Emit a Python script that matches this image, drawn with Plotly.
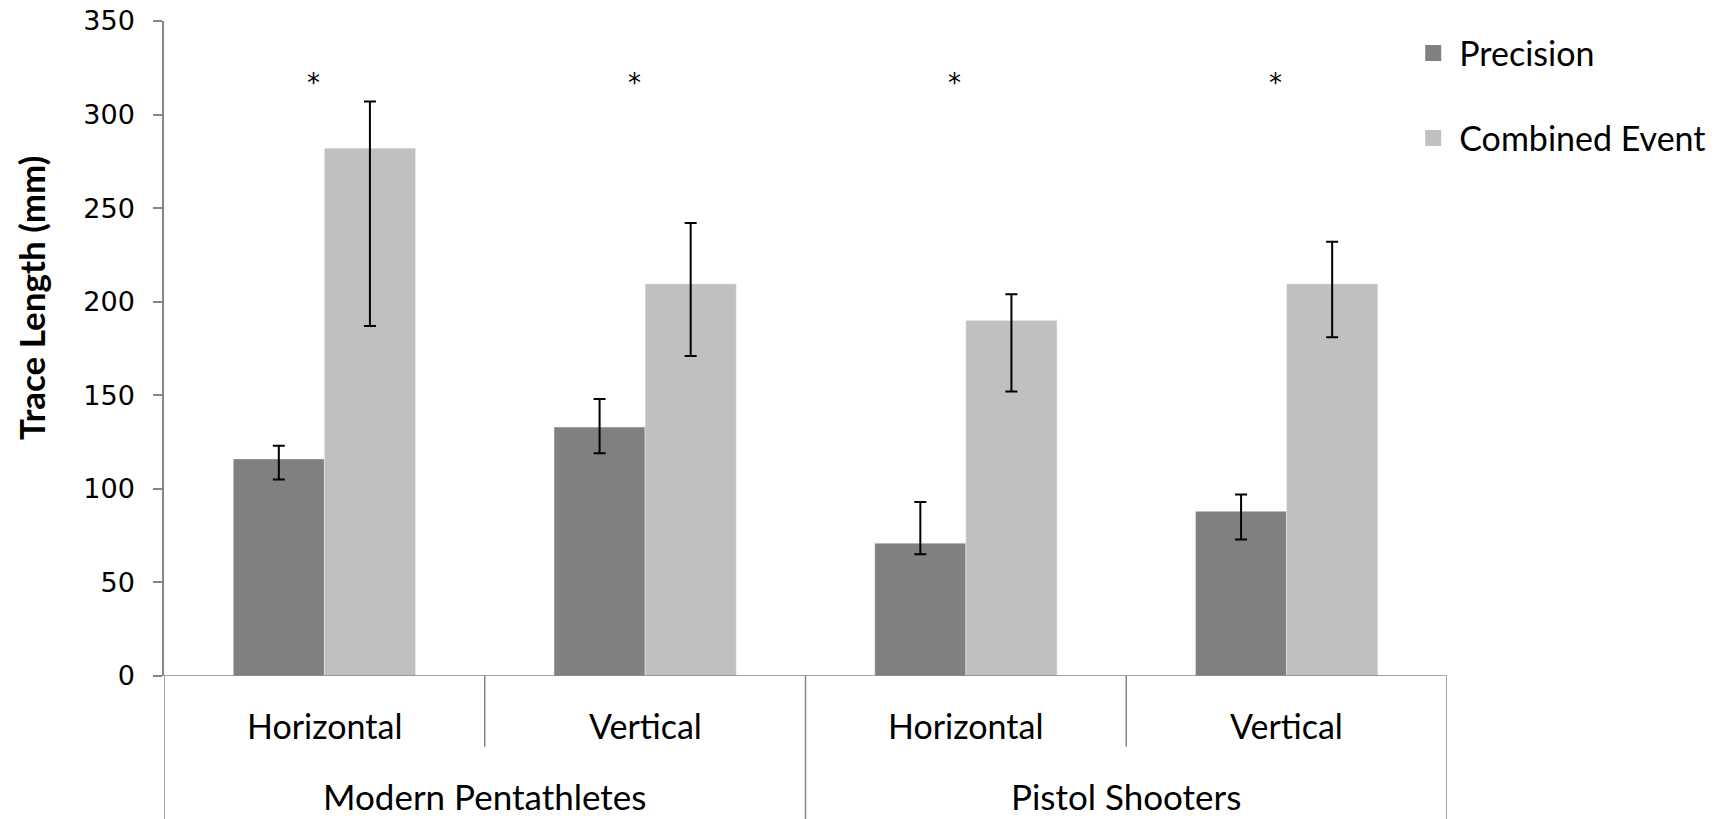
import plotly.graph_objects as go

# ---- data ----
groups = ["Modern Pentathletes", "Modern Pentathletes", "Pistol Shooters", "Pistol Shooters"]
directions = ["Horizontal", "Vertical", "Horizontal", "Vertical"]
group_labels = ["Modern Pentathletes", "Pistol Shooters"]
precision = [116, 133, 71, 88]
precision_hi = [123, 148, 93, 97]
precision_lo = [105, 119, 65, 73]
combined = [282, 209.5, 190, 209.5]
combined_hi = [307, 242, 204, 232]
combined_lo = [187, 171, 152, 181]
significance = ["*", "*", "*", "*"]
y_ticks = [0, 50, 100, 150, 200, 250, 300, 350]

x = list(range(len(directions)))
AX = "#868686"
TXT = "Lato"

fig = go.Figure()
fig.add_trace(go.Bar(
    x=x, y=precision, name="Precision", marker_color="#808080", showlegend=False,
    error_y=dict(type="data", symmetric=False,
                 array=[h - v for h, v in zip(precision_hi, precision)],
                 arrayminus=[v - l for v, l in zip(precision, precision_lo)],
                 color="black", thickness=2, width=6)))
fig.add_trace(go.Bar(
    x=x, y=combined, name="Combined Event", marker_color="#C0C0C0", showlegend=False,
    error_y=dict(type="data", symmetric=False,
                 array=[h - v for h, v in zip(combined_hi, combined)],
                 arrayminus=[v - l for v, l in zip(combined, combined_lo)],
                 color="black", thickness=2, width=6)))
# legend entries
for nm, col, grp in [("Precision", "#808080", "a"), ("Combined Event", "#C0C0C0", "b")]:
    fig.add_trace(go.Scatter(x=[None], y=[None], mode="markers", name=nm, legendgroup=grp,
                             marker=dict(symbol="square", size=16, color=col)))

fig.update_layout(
    width=1733, height=819,
    margin=dict(l=164, r=286, t=21, b=143, autoexpand=False),
    paper_bgcolor="white", plot_bgcolor="white",
    font=dict(family=TXT, color="black"),
    barmode="group", bargap=0.432, bargroupgap=0,
    showlegend=True,
    legend=dict(x=0.969, y=0.995, xanchor="left", yanchor="top", itemwidth=42,
                font=dict(family=TXT, size=34), tracegroupgap=38,
                bgcolor="rgba(0,0,0,0)"),
    xaxis=dict(range=[-0.5, len(x) - 0.5], showticklabels=False, ticks="", automargin=False,
               showgrid=False, zeroline=False, showline=False, fixedrange=True),
    yaxis=dict(range=[0, 350], tickvals=y_ticks, ticks="outside", ticklen=9, automargin=False,
               tickwidth=1.5, tickcolor=AX, showline=True, linecolor=AX, linewidth=1.5,
               showgrid=False, zeroline=False, ticklabelstandoff=13,
               tickfont=dict(family="DejaVu Sans", size=27)),
)

shapes = []
# baseline
shapes.append(dict(type="line", xref="x", yref="y", x0=-0.5, x1=len(x) - 0.5, y0=0, y1=0,
                   line=dict(color=AX, width=1.5)))
# outer separators
for xv in [-0.5, 1.5, 3.5]:
    shapes.append(dict(type="line", xref="x", yref="paper", x0=xv, x1=xv, y0=0, y1=-0.25,
                       line=dict(color=AX, width=1.5)))
# inner separators
for xv in [0.5, 2.5]:
    shapes.append(dict(type="line", xref="x", yref="paper", x0=xv, x1=xv, y0=0, y1=-0.108,
                       line=dict(color=AX, width=1.5)))
fig.update_layout(shapes=shapes)

for i, d in enumerate(directions):
    fig.add_annotation(x=x[i], y=-0.076, xref="x", yref="paper", text=d, showarrow=False,
                       font=dict(family=TXT, size=34), yanchor="middle")
for j, g in enumerate(group_labels):
    fig.add_annotation(x=2 * j + 0.5, y=-0.183, xref="x", yref="paper", text=g, showarrow=False,
                       font=dict(family=TXT, size=35), yanchor="middle")
for i, s in enumerate(significance):
    fig.add_annotation(x=x[i], y=317, xref="x", yref="y", text=s, showarrow=False, xshift=-11,
                       font=dict(family="DejaVu Sans", size=26), yanchor="middle")

fig.add_annotation(x=0, xref="paper", xshift=-133, y=0.577, yref="paper",
                   text="<b>Trace Length (mm)</b>", textangle=-90, showarrow=False,
                   font=dict(family=TXT, size=35), xanchor="center", yanchor="middle")

fig.write_html("out.html")
